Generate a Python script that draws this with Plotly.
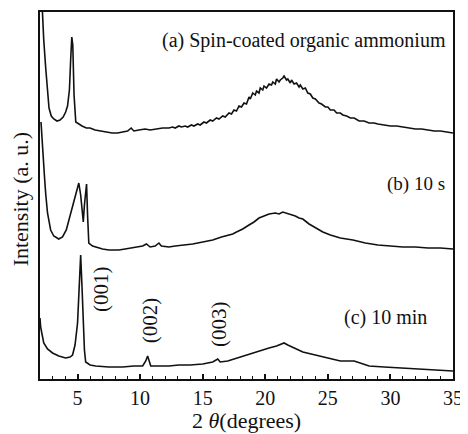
import plotly.graph_objects as go

# Pattern (a): spin-coated organic ammonium (offset intensity, a.u.)
xa = [2.0, 2.16, 2.3, 2.45, 2.6, 2.72, 2.9, 3.1, 3.36, 3.6, 3.85, 4.05, 4.2, 4.35, 4.45, 4.54, 4.62, 4.72, 4.86,
      5.1, 5.36, 5.7, 6.0, 6.4, 6.8, 7.2, 7.76, 8.2, 8.6, 9.0, 9.28, 9.5, 9.9, 10.4, 10.8, 11.3, 11.8,
      12.3, 12.6, 12.8, 13.1, 13.3, 13.6, 13.8, 14.1, 14.3, 14.6, 14.8, 15.1, 15.3, 15.6, 15.8, 16.1, 16.3,
      16.6, 16.8, 17.1, 17.3, 17.5, 17.7, 17.9, 18.1, 18.3, 18.5, 18.7, 18.8, 19.0, 19.2, 19.3, 19.5, 19.6,
      19.8, 19.9, 20.1, 20.3, 20.5, 20.6, 20.8, 20.9, 21.1, 21.2, 21.4, 21.5, 21.7, 21.8, 22.0, 22.1, 22.3,
      22.5, 22.7, 22.8, 23.0, 23.2, 23.4, 23.6, 23.8, 24.0, 24.3, 24.5, 24.8, 25.0, 25.2, 25.5, 25.7, 26.0,
      26.2, 26.5, 26.8, 27.1, 27.5, 27.9, 28.3, 28.7, 29.0, 29.5, 30.0, 30.5, 31.0, 31.5, 32.0, 32.5, 33.0,
      33.5, 34.0, 34.5, 35.0]
pa = [-40, 12, 40, 67, 92, 108, 116, 119, 121, 120, 117, 112, 106, 90, 60, 37, 45, 95, 122,
      124, 126, 128, 128, 130, 131, 132, 133, 133, 132, 131, 128, 131, 130, 129, 130, 129, 128,
      128, 127, 128, 126, 127, 126, 127, 125, 126, 124, 125, 122, 123, 120, 121, 118, 119,
      116, 117, 113, 114, 110, 111, 106, 107, 103, 104, 97, 99, 93, 95, 91, 93, 88,
      90, 86, 88, 84, 85, 82, 84, 79, 82, 80, 78, 76, 80, 79, 83, 80, 84,
      83, 87, 85, 89, 88, 93, 94, 98, 99, 103, 104, 107, 107, 110, 110, 113, 113,
      115, 116, 118, 118, 121, 121, 123, 123, 124, 125, 126, 126, 127, 128, 129, 129, 130,
      131, 131, 132, 133]

# Pattern (b): 10 s
xb = [2.08, 2.2, 2.35, 2.45, 2.6, 2.85, 3.1, 3.5, 3.8, 4.1, 4.3, 4.5, 4.7, 4.9, 5.1, 5.25, 5.4, 5.46, 5.55, 5.65,
      5.72, 5.8, 5.9, 6.2, 6.45, 7.0, 7.5, 8.0, 8.3, 8.8, 9.3, 9.9, 10.2, 10.5, 10.8, 11.2, 11.5, 11.7, 12.3,
      12.8, 13.5, 14.2, 15.0, 15.8, 16.5, 17.0, 17.4, 17.7, 18.2, 18.7, 19.1, 19.5, 19.9, 20.3, 20.8, 21.1,
      21.4, 21.9, 22.4, 22.7, 23.0, 23.5, 24.0, 24.6, 25.2, 26.0, 27.0, 28.0, 29.0, 30.0, 31.0, 32.0, 33.0,
      34.0, 35.0]
pb = [122, 150, 175, 193, 213, 230, 236, 239, 237, 230, 220, 210, 200, 190, 183, 195, 218, 222, 205, 186,
      184, 215, 243, 246, 247, 249, 250, 250, 250, 249, 248, 247, 246, 244, 247, 246, 243, 246, 247,
      246, 245, 244, 242, 240, 237, 235, 234, 232, 229, 225, 222, 218, 216, 214, 213, 214,
      212, 214, 216, 218, 219, 224, 228, 232, 235, 238, 240, 243, 245, 246, 247, 247, 248,
      248, 249]

# Pattern (c): 10 min
xc = [2.0, 2.05, 2.3, 2.6, 3.0, 3.5, 4.05, 4.4, 4.6, 4.8, 5.0, 5.1, 5.25, 5.35, 5.44, 5.55, 5.65, 6.0, 6.45,
      7.5, 8.6, 9.5, 10.2, 10.45, 10.6, 10.75, 10.85, 11.5, 12.3, 13.1, 14.0, 15.0, 15.8, 16.2, 16.4, 17.0,
      18.0, 19.0, 19.7, 20.3, 20.9, 21.5, 21.8, 22.3, 23.0, 24.0, 24.9, 26.0, 27.1, 27.6, 28.3, 29.5, 31.0,
      33.0, 35.0]
pc = [318, 327, 343, 349, 353, 356, 358, 357, 355, 345, 323, 295, 255, 285, 323, 350, 362, 365, 366,
      367, 367, 366, 366, 361, 356, 361, 366, 366, 366, 365, 365, 364, 362, 359, 362, 361,
      357, 353, 350, 348, 346, 343, 345, 348, 352, 355, 358, 361, 361, 363, 366, 367, 368,
      369, 371]

BASE = 379
ya = [BASE - v for v in pa]
yb = [BASE - v for v in pb]
yc = [BASE - v for v in pc]

FONT = "Liberation Serif"
INK = "#111111"
line = dict(color=INK, width=1.6)

fig = go.Figure()
for xs, ys in [(xa, ya), (xb, yb), (xc, yc)]:
    fig.add_trace(go.Scatter(x=xs, y=ys, mode="lines", line=line, showlegend=False, cliponaxis=True))

ann = [
    ("(a) Spin-coated organic ammonium", 34.6, 339, "right", 0, 20),
    ("(b) 10 s", 34.5, 195, "right", 0, 19),
    ("(c) 10 min", 33.1, 62, "right", 0, 20),
    ("(001)", 6.88, 90, "center", -90, 21),
    ("(002)", 10.8, 59, "center", -90, 21),
    ("(003)", 16.3, 55, "center", -90, 21),
]
for t, x, y, xa_, ang, sz in ann:
    fig.add_annotation(text=t, x=x, y=y, xref="x", yref="y", xanchor=xa_, yanchor="middle",
                       showarrow=False, textangle=ang, font=dict(family=FONT, size=sz, color=INK))

# axis titles placed explicitly
fig.add_annotation(text="2 <i>θ</i>(degrees)", x=0.5, y=-0.113, xref="paper", yref="paper",
                   xanchor="center", yanchor="middle", showarrow=False,
                   font=dict(family=FONT, size=22, color=INK))
fig.add_annotation(text="Intensity (a. u.)", x=-0.048, y=0.49, xref="paper", yref="paper",
                   xanchor="center", yanchor="middle", showarrow=False, textangle=-90,
                   font=dict(family=FONT, size=22, color=INK))

# page body adds an 8 px offset; margins compensate so the plot box sits at 40..453 x 12..379
fig.update_layout(
    width=468, height=434,
    margin=dict(l=32, r=23, t=4, b=63, autoexpand=False),
    paper_bgcolor="white", plot_bgcolor="white",
    font=dict(family=FONT, size=20, color=INK),
    xaxis=dict(range=[2, 35], tickvals=[5, 10, 15, 20, 25, 30, 35], ticks="inside", ticklen=5,
               tickwidth=1.5, tickcolor=INK, automargin=False,
               minor=dict(dtick=1, tick0=0, ticks="inside", ticklen=3, tickwidth=1.2, tickcolor=INK),
               showline=True, linecolor=INK, linewidth=2, mirror=True, showgrid=False, zeroline=False,
               tickfont=dict(family=FONT, size=20)),
    yaxis=dict(range=[0, 367], showticklabels=False, ticks="", showline=True, linecolor=INK,
               linewidth=2, mirror=True, showgrid=False, zeroline=False, automargin=False),
)

fig.write_html("out.html")
